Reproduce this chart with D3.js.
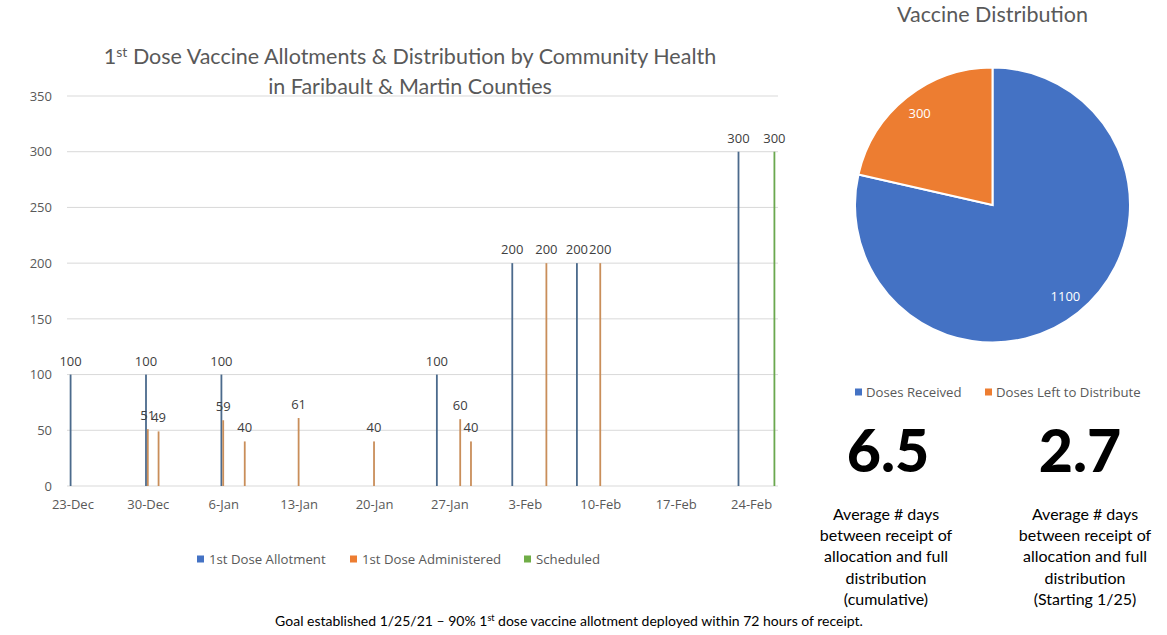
<!DOCTYPE html>
<html>
<head>
<meta charset="utf-8">
<script src="https://cdn.jsdelivr.net/npm/d3@7"></script>
<style>
  body { margin: 0; background: #fff; }
  svg { display: block; }
</style>
</head>
<body>
<svg id="chart" width="1167" height="635"></svg>
<script>
// bar chart data
const allotDates = ["2020-12-23", "2020-12-30", "2021-01-06", "2021-01-26", "2021-02-02", "2021-02-08", "2021-02-23"];
const allotValues = [100, 100, 100, 100, 200, 200, 300];
const adminDates = ["2020-12-30", "2020-12-31", "2021-01-06", "2021-01-08", "2021-01-13", "2021-01-20", "2021-01-28", "2021-01-29", "2021-02-05", "2021-02-10"];
const adminValues = [51, 49, 59, 40, 61, 40, 60, 40, 200, 200];
const schedDates = ["2021-02-26"];
const schedValues = [300];
const seriesNames = ["1st Dose Allotment", "1st Dose Administered", "Scheduled"];
const yTicks = [0, 50, 100, 150, 200, 250, 300, 350];

// pie data
const pieLabels = ["Doses Received", "Doses Left to Distribute"];
const pieValues = [1100, 300];

// stats
const statValues = ["6.5", "2.7"];
const statCaptions = [
  ["Average # days", "between receipt of", "allocation and full", "distribution", "(cumulative)"],
  ["Average # days", "between receipt of", "allocation and full", "distribution", "(Starting 1/25)"]
];

const svg = d3.select("#chart");
const chartFont = "'Open Sans', sans-serif";
const titleFont = "Lato, 'Open Sans', sans-serif";
const legendColors = ["#4472C4", "#ED7D31", "#70AD47"];
const barColors = ["#4b6a8c", "#c98e5a", "#6aa84f"];

const parse = d3.timeParse("%Y-%m-%d");
const day = 24 * 3600 * 1000;

const x = d3.scaleTime()
  .domain([new Date(parse("2020-12-23") - day / 2), new Date(+parse("2021-02-26") + day / 2)])
  .range([67, 778]);
const y = d3.scaleLinear().domain([0, 350]).range([486, 96]);
const dayW = x(parse("2020-12-24")) - x(parse("2020-12-23"));
const sub = d3.scaleBand().domain(seriesNames).range([-dayW / 2, dayW / 2]).paddingOuter(1.5);

const bars = [];
allotDates.forEach((d, i) => bars.push({ s: 0, date: parse(d), v: allotValues[i] }));
adminDates.forEach((d, i) => bars.push({ s: 1, date: parse(d), v: adminValues[i] }));
schedDates.forEach((d, i) => bars.push({ s: 2, date: parse(d), v: schedValues[i] }));

// gridlines
svg.append("g")
  .selectAll("line")
  .data(yTicks)
  .join("line")
  .attr("x1", 67).attr("x2", 778)
  .attr("y1", d => y(d)).attr("y2", d => y(d))
  .attr("stroke", "#d9d9d9").attr("stroke-width", 1);

// y axis labels
const yAxis = svg.append("g")
  .attr("transform", "translate(56,0)")
  .call(d3.axisLeft(y).tickValues(yTicks).tickSize(0).tickPadding(4));
yAxis.select(".domain").remove();
yAxis.selectAll("text").attr("font-family", chartFont).attr("font-size", 13).attr("fill", "#595959");

// x axis labels
const xTicks = d3.timeDay.range(parse("2020-12-23"), parse("2021-02-25"), 7);
const xAxis = svg.append("g")
  .attr("transform", "translate(0,500)")
  .call(d3.axisBottom(x).tickValues(xTicks).tickFormat(d3.timeFormat("%-d-%b")).tickSize(0).tickPadding(0));
xAxis.select(".domain").remove();
xAxis.selectAll("text").attr("font-family", chartFont).attr("font-size", 13).attr("fill", "#595959");

// bars
const bw = sub.bandwidth();
svg.append("g")
  .selectAll("rect")
  .data(bars)
  .join("rect")
  .attr("x", d => x(d.date) + sub(seriesNames[d.s]))
  .attr("width", bw)
  .attr("y", d => y(d.v))
  .attr("height", d => y(0) - y(d.v))
  .attr("fill", d => barColors[d.s]);

// value labels
svg.append("g")
  .selectAll("text")
  .data(bars)
  .join("text")
  .attr("x", d => x(d.date) + sub(seriesNames[d.s]) + bw / 2)
  .attr("y", d => y(d.v) - 9)
  .attr("text-anchor", "middle")
  .attr("font-family", chartFont).attr("font-size", 13).attr("fill", "#404040")
  .text(d => d.v);

// title
const title = svg.append("text")
  .attr("x", 410).attr("y", 64)
  .attr("text-anchor", "middle")
  .attr("font-family", titleFont).attr("font-size", 21.5).attr("fill", "#595959");
title.append("tspan").text("1");
title.append("tspan").attr("font-size", 14).attr("dy", -7).text("st");
title.append("tspan").attr("dy", 7).text(" Dose Vaccine Allotments & Distribution by Community Health");
svg.append("text")
  .attr("x", 410).attr("y", 94)
  .attr("text-anchor", "middle")
  .attr("font-family", titleFont).attr("font-size", 21.5).attr("fill", "#595959")
  .text("in Faribault & Martin Counties");

// bar legend
const legendX = [197, 350, 524];
const lg = svg.append("g").selectAll("g").data(seriesNames).join("g")
  .attr("transform", (d, i) => `translate(${legendX[i]},559)`);
lg.append("rect").attr("x", 0).attr("y", -3.5).attr("width", 7).attr("height", 7)
  .attr("fill", (d, i) => legendColors[i]);
lg.append("text").attr("x", 12).attr("y", 0).attr("dy", "0.35em")
  .attr("font-family", chartFont).attr("font-size", 13.2).attr("fill", "#595959")
  .text(d => d);

// pie
const pieCx = 992.5, pieCy = 205, pieR = 137.5;
const pie = d3.pie().sort(null)(pieValues);
const arc = d3.arc().innerRadius(0).outerRadius(pieR);
const labelArc = d3.arc().innerRadius(pieR * 0.85).outerRadius(pieR * 0.85);
const pg = svg.append("g").attr("transform", `translate(${pieCx},${pieCy})`);
pg.selectAll("path").data(pie).join("path")
  .attr("d", arc)
  .attr("fill", (d, i) => legendColors[i])
  .attr("stroke", "#fff").attr("stroke-width", 2);
pg.selectAll("text").data(pie).join("text")
  .attr("transform", d => `translate(${labelArc.centroid(d)})`)
  .attr("text-anchor", "middle").attr("dy", "0.35em")
  .attr("font-family", chartFont).attr("font-size", 13).attr("fill", "#fff")
  .text(d => d.value);

svg.append("text")
  .attr("x", pieCx).attr("y", 22)
  .attr("text-anchor", "middle")
  .attr("font-family", titleFont).attr("font-size", 21.5).attr("fill", "#595959")
  .text("Vaccine Distribution");

const pieLegendX = [855, 985];
const plg = svg.append("g").selectAll("g").data(pieLabels).join("g")
  .attr("transform", (d, i) => `translate(${pieLegendX[i]},392)`);
plg.append("rect").attr("x", 0).attr("y", -3.5).attr("width", 7).attr("height", 7)
  .attr("fill", (d, i) => legendColors[i]);
plg.append("text").attr("x", 11).attr("y", 0).attr("dy", "0.35em")
  .attr("font-family", chartFont).attr("font-size", 13.2).attr("fill", "#595959")
  .text(d => d);

// stats
const statNumX = [888, 1080];
const statTextX = [886, 1085];
statValues.forEach((v, i) => {
  svg.append("text")
    .attr("x", statNumX[i]).attr("y", 472)
    .attr("text-anchor", "middle")
    .attr("font-family", titleFont).attr("font-weight", 900).attr("font-size", 59).attr("fill", "#000")
    .text(v);
  svg.append("g").selectAll("text").data(statCaptions[i]).join("text")
    .attr("x", statTextX[i])
    .attr("y", (d, j) => 520 + j * 21.2)
    .attr("text-anchor", "middle")
    .attr("font-family", titleFont).attr("font-size", 16).attr("fill", "#000")
    .text(d => d);
});

// footer
const foot = svg.append("text")
  .attr("x", 569).attr("y", 626)
  .attr("text-anchor", "middle")
  .attr("font-family", titleFont).attr("font-size", 14).attr("fill", "#000");
foot.append("tspan").text("Goal established 1/25/21 \u2013 90% 1");
foot.append("tspan").attr("font-size", 9).attr("dy", -5).text("st");
foot.append("tspan").attr("dy", 5).text(" dose vaccine allotment deployed within 72 hours of receipt.");
</script>
</body>
</html>
